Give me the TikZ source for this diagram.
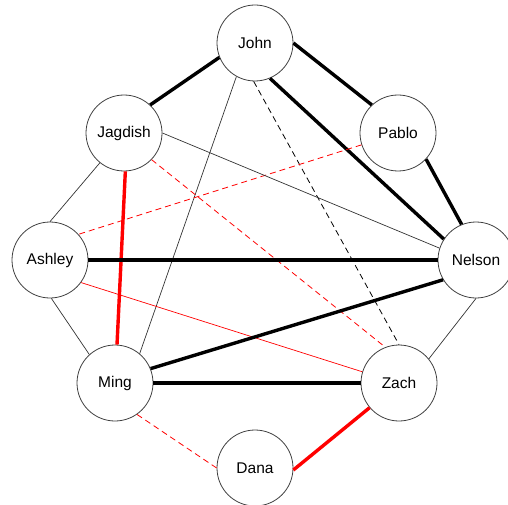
\documentclass[tikz,border=0pt]{standalone}
\usepackage{fontspec}
\setmainfont{Liberation Sans}
\begin{document}
\begin{tikzpicture}[x=1pt,y=-1pt,
  person/.style={circle,draw=black!75,line width=0.8pt,fill=white,minimum size=76pt,inner sep=0pt,font=\fontsize{15.5}{17}\selectfont},
  strong/.style={line width=3.4pt,black},
  weak/.style={line width=0.7pt,black!80},
  weakred/.style={line width=0.7pt,red},
  strongred/.style={line width=3.4pt,red},
  dashblack/.style={line width=0.8pt,black,dash pattern=on 6pt off 4pt},
  dashred/.style={line width=0.8pt,red,dash pattern=on 6pt off 4pt}]
\useasboundingbox (0,0) rectangle (508,505);
\node[person] (John) at (255,43) {John};
\node[person] (Pablo) at (398,133) {Pablo};
\node[person] (Jagdish) at (124,133) {Jagdish};
\node[person] (Ashley) at (50,260) {Ashley};
\node[person] (Nelson) at (476,260) {Nelson};
\node[person] (Ming) at (115,383) {Ming};
\node[person] (Zach) at (399,383) {Zach};
\node[person] (Dana) at (255,468) {Dana};
% edges
\begin{scope}[on background layer/.style={}]
\draw[strong] (John.202) -- (Jagdish.47);
\draw[strong] (John.0) -- (Pablo.133);
\draw[strong] (John.293) -- (Nelson.147);
\draw[weak] (John.241) -- (Ming.50);
\draw[dashblack] (John.268) -- (Zach.90);
\draw[strong] (Pablo.317) -- (Nelson.112);
\draw[dashred] (Pablo.198) -- (Ashley.42);
\draw[weak] (Jagdish.0) -- (Nelson.162);
\draw[weak] (Jagdish.231) -- (Ashley.90);
\draw[strongred] (Jagdish.272) -- (Ming.87);
\draw[dashred] (Jagdish.316) -- (Zach.111);
\draw[strong] (Ashley.0) -- (Nelson.180);
\draw[weak] (Ashley.272) -- (Ming.132);
\draw[weakred] (Ashley.324) -- (Zach.163);
\draw[strong] (Nelson.211) -- (Ming.22);
\draw[weak] (Nelson.270) -- (Zach.39);
\draw[strong] (Ming.0) -- (Zach.180);
\draw[dashred] (Ming.305) -- (Dana.180);
\draw[strongred] (Zach.220) -- (Dana.357);
\end{scope}
\end{tikzpicture}
\end{document}
